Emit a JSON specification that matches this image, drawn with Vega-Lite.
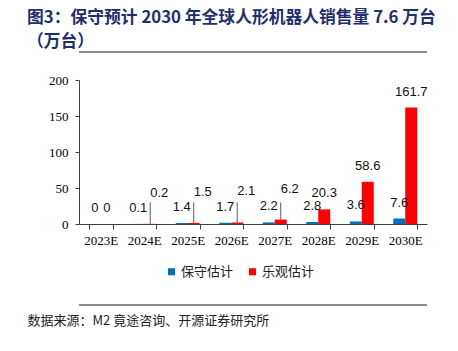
{
  "$schema": "https://vega.github.io/schema/vega-lite/v6.json",
  "width": 348,
  "height": 144,
  "autosize": "none",
  "padding": {"left": 79, "top": 80, "right": 31, "bottom": 127},
  "background": "white",
  "title": {
    "text": ["图3：保守预计 2030 年全球人形机器人销售量 7.6 万台", "（万台）"],
    "anchor": "start",
    "frame": "group",
    "dx": -52,
    "offset": 0,
    "font": "Noto Sans CJK SC",
    "fontSize": 16.8,
    "fontWeight": "bold",
    "color": "#1F2F6B",
    "lineHeight": 24
  },
  "config": {
    "view": {"stroke": null},
    "axisY": {
      "grid": false, "labelOverlap": false, "labelFont": "Liberation Serif", "labelFontSize": 13, "labelColor": "#000",
      "labelPadding": 7, "domainColor": "#404040", "tickColor": "#404040", "tickSize": 4
    }
  },
  "data": {
    "values": [
      {"year": "2023E", "series": "保守估计", "value": 0},
      {"year": "2024E", "series": "保守估计", "value": 0.1},
      {"year": "2025E", "series": "保守估计", "value": 1.4},
      {"year": "2026E", "series": "保守估计", "value": 1.7},
      {"year": "2027E", "series": "保守估计", "value": 2.2},
      {"year": "2028E", "series": "保守估计", "value": 2.8},
      {"year": "2029E", "series": "保守估计", "value": 3.6},
      {"year": "2030E", "series": "保守估计", "value": 7.6},
      {"year": "2023E", "series": "乐观估计", "value": 0},
      {"year": "2024E", "series": "乐观估计", "value": 0.2},
      {"year": "2025E", "series": "乐观估计", "value": 1.5},
      {"year": "2026E", "series": "乐观估计", "value": 2.1},
      {"year": "2027E", "series": "乐观估计", "value": 6.2},
      {"year": "2028E", "series": "乐观估计", "value": 20.3},
      {"year": "2029E", "series": "乐观估计", "value": 58.6},
      {"year": "2030E", "series": "乐观估计", "value": 161.7}
    ]
  },
  "layer": [
    {
      "mark": {"type": "bar"},
      "encoding": {
        "x": {
          "field": "year", "type": "nominal", "sort": null,
          "scale": {"paddingInner": 0.45, "paddingOuter": 0.225},
          "axis": {
            "labelAngle": 0, "labelFont": "Liberation Serif", "labelFontSize": 13, "labelColor": "#000",
            "labelPadding": 5, "domainColor": "#404040", "tickColor": "#404040", "tickSize": 5, "tickBand": "extent",
            "title": "数据来源：M2 竟途咨询、开源证券研究所",
            "titleX": -52, "titleY": 96, "titleAlign": "left", "titleBaseline": "middle",
            "titleFont": "Noto Sans CJK SC", "titleFontSize": 13, "titleFontWeight": "normal", "titleColor": "#222"
          }
        },
        "xOffset": {"field": "series", "type": "nominal", "sort": ["保守估计", "乐观估计"], "scale": {"paddingInner": 0}},
        "y": {
          "field": "value", "type": "quantitative",
          "scale": {"domain": [0, 200], "nice": false},
          "axis": {"values": [0, 50, 100, 150, 200], "tickCount": 5, "title": null}
        },
        "color": {
          "field": "series", "type": "nominal",
          "scale": {"domain": ["保守估计", "乐观估计"], "range": ["#0070C0", "#FF0000"]},
          "legend": {
            "orient": "none", "legendX": 86, "legendY": 185, "direction": "horizontal", "title": null,
            "symbolType": "square", "symbolSize": 50, "symbolStrokeWidth": 0,
            "labelFont": "Noto Sans CJK SC", "labelFontSize": 13, "labelColor": "#222",
            "columnPadding": 12, "labelOffset": 3
          }
        }
      }
    },
    {
      "transform": [{"filter": "datum.series == '保守估计'"}],
      "mark": {"type": "text", "font": "Liberation Sans", "fontSize": 13, "color": "#111", "dx": -6, "dy": -16, "baseline": "middle"},
      "encoding": {
        "x": {"field": "year", "type": "nominal", "sort": null},
        "y": {"field": "value", "type": "quantitative", "axis": {"values": [0, 50, 100, 150, 200], "tickCount": 5, "title": null}},
        "text": {"field": "value", "type": "quantitative"}
      }
    },
    {
      "transform": [{"filter": "datum.series == '乐观估计' && (datum.value >= 10 || datum.value == 0)"}],
      "mark": {"type": "text", "font": "Liberation Sans", "fontSize": 13, "color": "#111", "dx": 6, "dy": -16, "baseline": "middle"},
      "encoding": {
        "x": {"field": "year", "type": "nominal", "sort": null},
        "y": {"field": "value", "type": "quantitative", "axis": {"values": [0, 50, 100, 150, 200], "tickCount": 5, "title": null}},
        "text": {"field": "value", "type": "quantitative"}
      }
    },
    {
      "transform": [{"filter": "datum.series == '乐观估计' && datum.value > 0 && datum.value < 10"}],
      "mark": {"type": "text", "font": "Liberation Sans", "fontSize": 13, "color": "#111", "dx": 15, "dy": -31, "baseline": "middle"},
      "encoding": {
        "x": {"field": "year", "type": "nominal", "sort": null},
        "y": {"field": "value", "type": "quantitative", "axis": {"values": [0, 50, 100, 150, 200], "tickCount": 5, "title": null}},
        "text": {"field": "value", "type": "quantitative"}
      }
    },
    {
      "transform": [{"filter": "datum.series == '乐观估计' && datum.value > 0 && datum.value < 10"}],
      "mark": {"type": "rule", "color": "#333", "strokeWidth": 0.8},
      "encoding": {
        "x": {"field": "year", "type": "nominal", "sort": null},
        "xOffset": {"field": "series", "type": "nominal", "sort": ["保守估计", "乐观估计"]},
        "y": {"field": "value", "type": "quantitative", "axis": {"values": [0, 50, 100, 150, 200], "tickCount": 5, "title": null}},
        "y2": {"datum": 30}
      }
    },
    {
      "mark": {"type": "rule", "color": "#8c8c8c", "strokeWidth": 1.5},
      "encoding": {"y": {"datum": 239, "type": "quantitative", "axis": {"values": [0, 50, 100, 150, 200], "tickCount": 5, "title": null}}}
    },
    {
      "mark": {"type": "rule", "color": "#8c8c8c", "strokeWidth": 1.5},
      "encoding": {"y": {"datum": -112.5, "type": "quantitative", "axis": {"values": [0, 50, 100, 150, 200], "tickCount": 5, "title": null}}}
    }
  ]
}
